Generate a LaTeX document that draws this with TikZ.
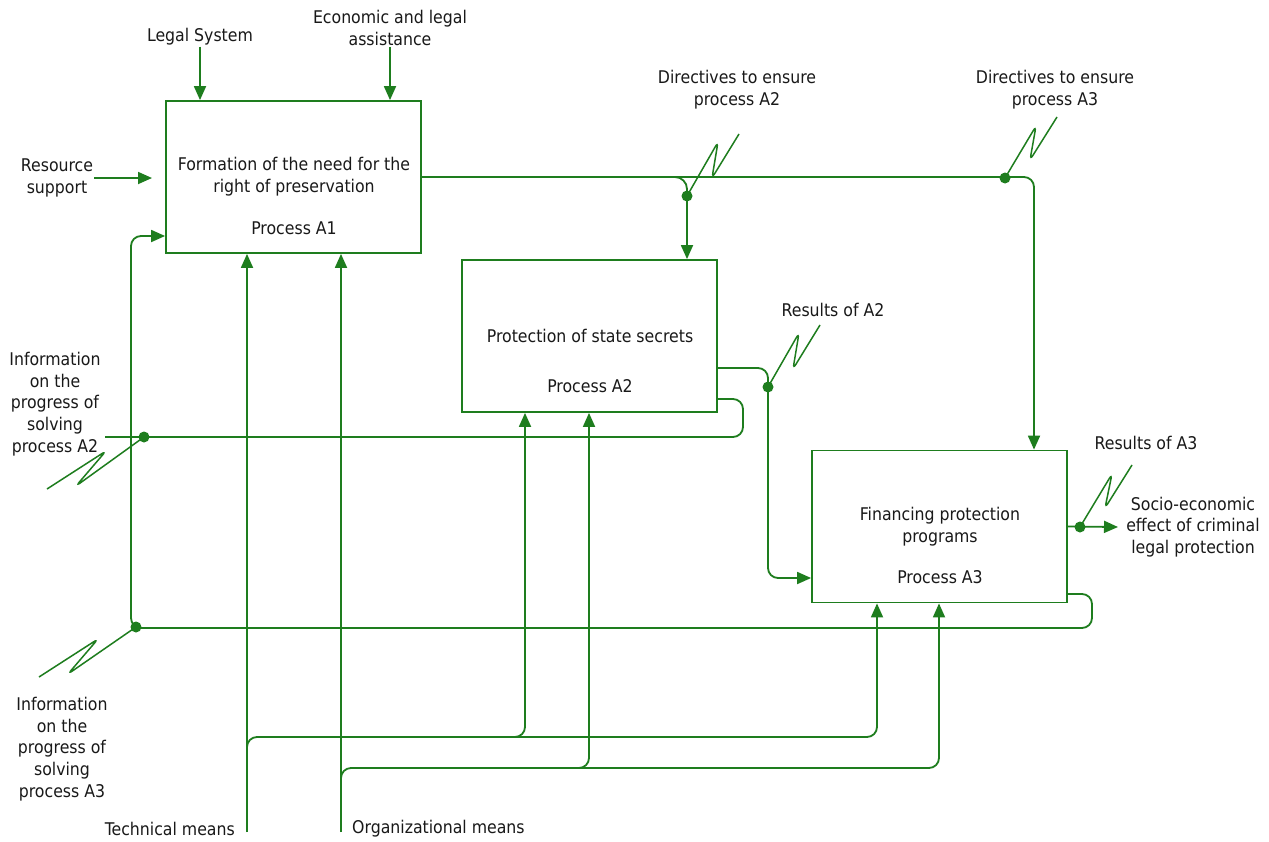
\documentclass[tikz,border=0pt]{standalone}
\usepackage{fontspec}
\setmainfont{DejaVu Sans Condensed}
\usetikzlibrary{arrows.meta}
\definecolor{idef}{RGB}{30,125,30}
\definecolor{txt}{RGB}{25,25,25}
\begin{document}
\begin{tikzpicture}[x=1pt,y=-1pt,
  font=\fontsize{17.5}{21.8}\selectfont,
  box/.style={draw=idef, line width=1.8pt, minimum width=255pt, minimum height=152pt, inner sep=0pt},
  lbl/.style={align=center, inner sep=1pt, text=txt},
  ln/.style={draw=idef, line width=1.8pt},
  arr/.style={draw=idef, line width=1.8pt, -{Triangle[length=14pt,width=12pt]}},
  sq/.style={draw=idef, line width=1.5pt, rounded corners=5pt},
  dot/.style={circle, fill=idef, minimum size=11pt, inner sep=0pt}]
\useasboundingbox (0,0) rectangle (1269,841);
\fill[white] (0,0) rectangle (1269,841);

% boxes
\node[box] (a1) at (293.5,177) {};
\node[box] (a2) at (589.5,336) {};
\node[box] (a3) at (939.5,526.5) {};

\node[lbl] at (294,177) {Formation of the need for the\\right of preservation};
\node[lbl] at (294,228) {Process A1};
\node[lbl] at (590,336) {Protection of state secrets};
\node[lbl] at (590,386) {Process A2};
\node[lbl] at (940,526.5) {Financing protection\\programs};
\node[lbl] at (940,577) {Process A3};

% outer labels
\node[lbl] (ls) at (200,37) {Legal System};
\node[lbl] (ea) at (390,28) {Economic and legal\\assistance};
\node[lbl] (rs) at (57,178) {Resource\\support};
\node[lbl] (d2l) at (737,90) {Directives to ensure\\process A2};
\node[lbl] (d3l) at (1055,90) {Directives to ensure\\process A3};
\node[lbl] (r2l) at (833,310) {Results of A2};
\node[lbl] (r3l) at (1146,443) {Results of A3};
\node[lbl] (sel) at (1193,527) {Socio-economic\\effect of criminal\\legal protection};
\node[lbl] (i2l) at (55,404) {Information\\on the\\progress of\\solving\\process A2};
\node[lbl] (i3l) at (62,749) {Information\\on the\\progress of\\solving\\process A3};
\node[lbl, anchor=east] (tml) at (236,829) {Technical means};
\node[lbl, anchor=west] (oml) at (351,829) {Organizational means};

% controls and inputs into A1
\draw[arr] (ls.south) -- (ls.south |- a1.north);
\draw[arr] (ea.south) -- (ea.south |- a1.north);
\coordinate (rsend) at (152,178);
\draw[arr] (rs.east |- rsend) -- (rsend);

% A1 output
\draw[arr, rounded corners=10pt] (a1.east) -- (1034,177) -- (1034,0 |- a3.north);
\draw[arr, rounded corners=12pt] (672,177) -- (687,177) -- (687,0 |- a2.north);

% A2 output
\draw[arr, rounded corners=10pt] (a2.east |- 0,368) -- (768,368) -- (768,578) -- (a3.west |- 0,578);
% A2 feedback
\draw[ln, rounded corners=10pt] (a2.east |- 0,399) -- (743,399) -- (743,437) -- (105,437);

% A3 output
\coordinate (seend) at (1118,527);
\draw[arr] (a3.east) -- (seend);
% A3 feedback
\draw[arr, rounded corners=10pt] (a3.east |- 0,594) -- (1092,594) -- (1092,628) -- (131,628) -- (131,236) -- (a1.west |- 0,236);

% mechanisms
\coordinate (tmb) at (247,832);
\coordinate (omb) at (341,832);
\draw[arr] (tmb) -- (tmb |- a1.south);
\draw[arr] (omb) -- (omb |- a1.south);
\draw[arr, rounded corners=10pt] (247,760) -- (247,737) -- (877,737) -- (877,0 |- a3.south);
\draw[arr, rounded corners=10pt] (505,737) -- (525,737) -- (525,0 |- a2.south);
\draw[arr, rounded corners=10pt] (341,790) -- (341,768) -- (939,768) -- (939,0 |- a3.south);
\draw[arr, rounded corners=10pt] (569,768) -- (589,768) -- (589,0 |- a2.south);

% junction dots and squiggles
\node[dot] (d2) at (687,196) {};
\node[dot] (d3) at (1005,178) {};
\node[dot] (r2) at (768,387) {};
\node[dot] (r3) at (1080,527) {};
\node[dot] (i2) at (144,437) {};
\node[dot] (i3) at (136,627) {};

\draw[sq] (d2.center) -- (718,142) -- (712,178) -- (739,134);
\draw[sq] (d3.center) -- (1036,126) -- (1030,160) -- (1057,117);
\draw[sq] (r2.center) -- (799,333) -- (793,369) -- (820,325);
\draw[sq] (r3.center) -- (1112,474) -- (1105,508) -- (1132,465);
\draw[sq] (i2.center) -- (76,486) -- (106,451) -- (47,489);
\draw[sq] (i3.center) -- (68,674) -- (98,639) -- (39,677);
\end{tikzpicture}
\end{document}
